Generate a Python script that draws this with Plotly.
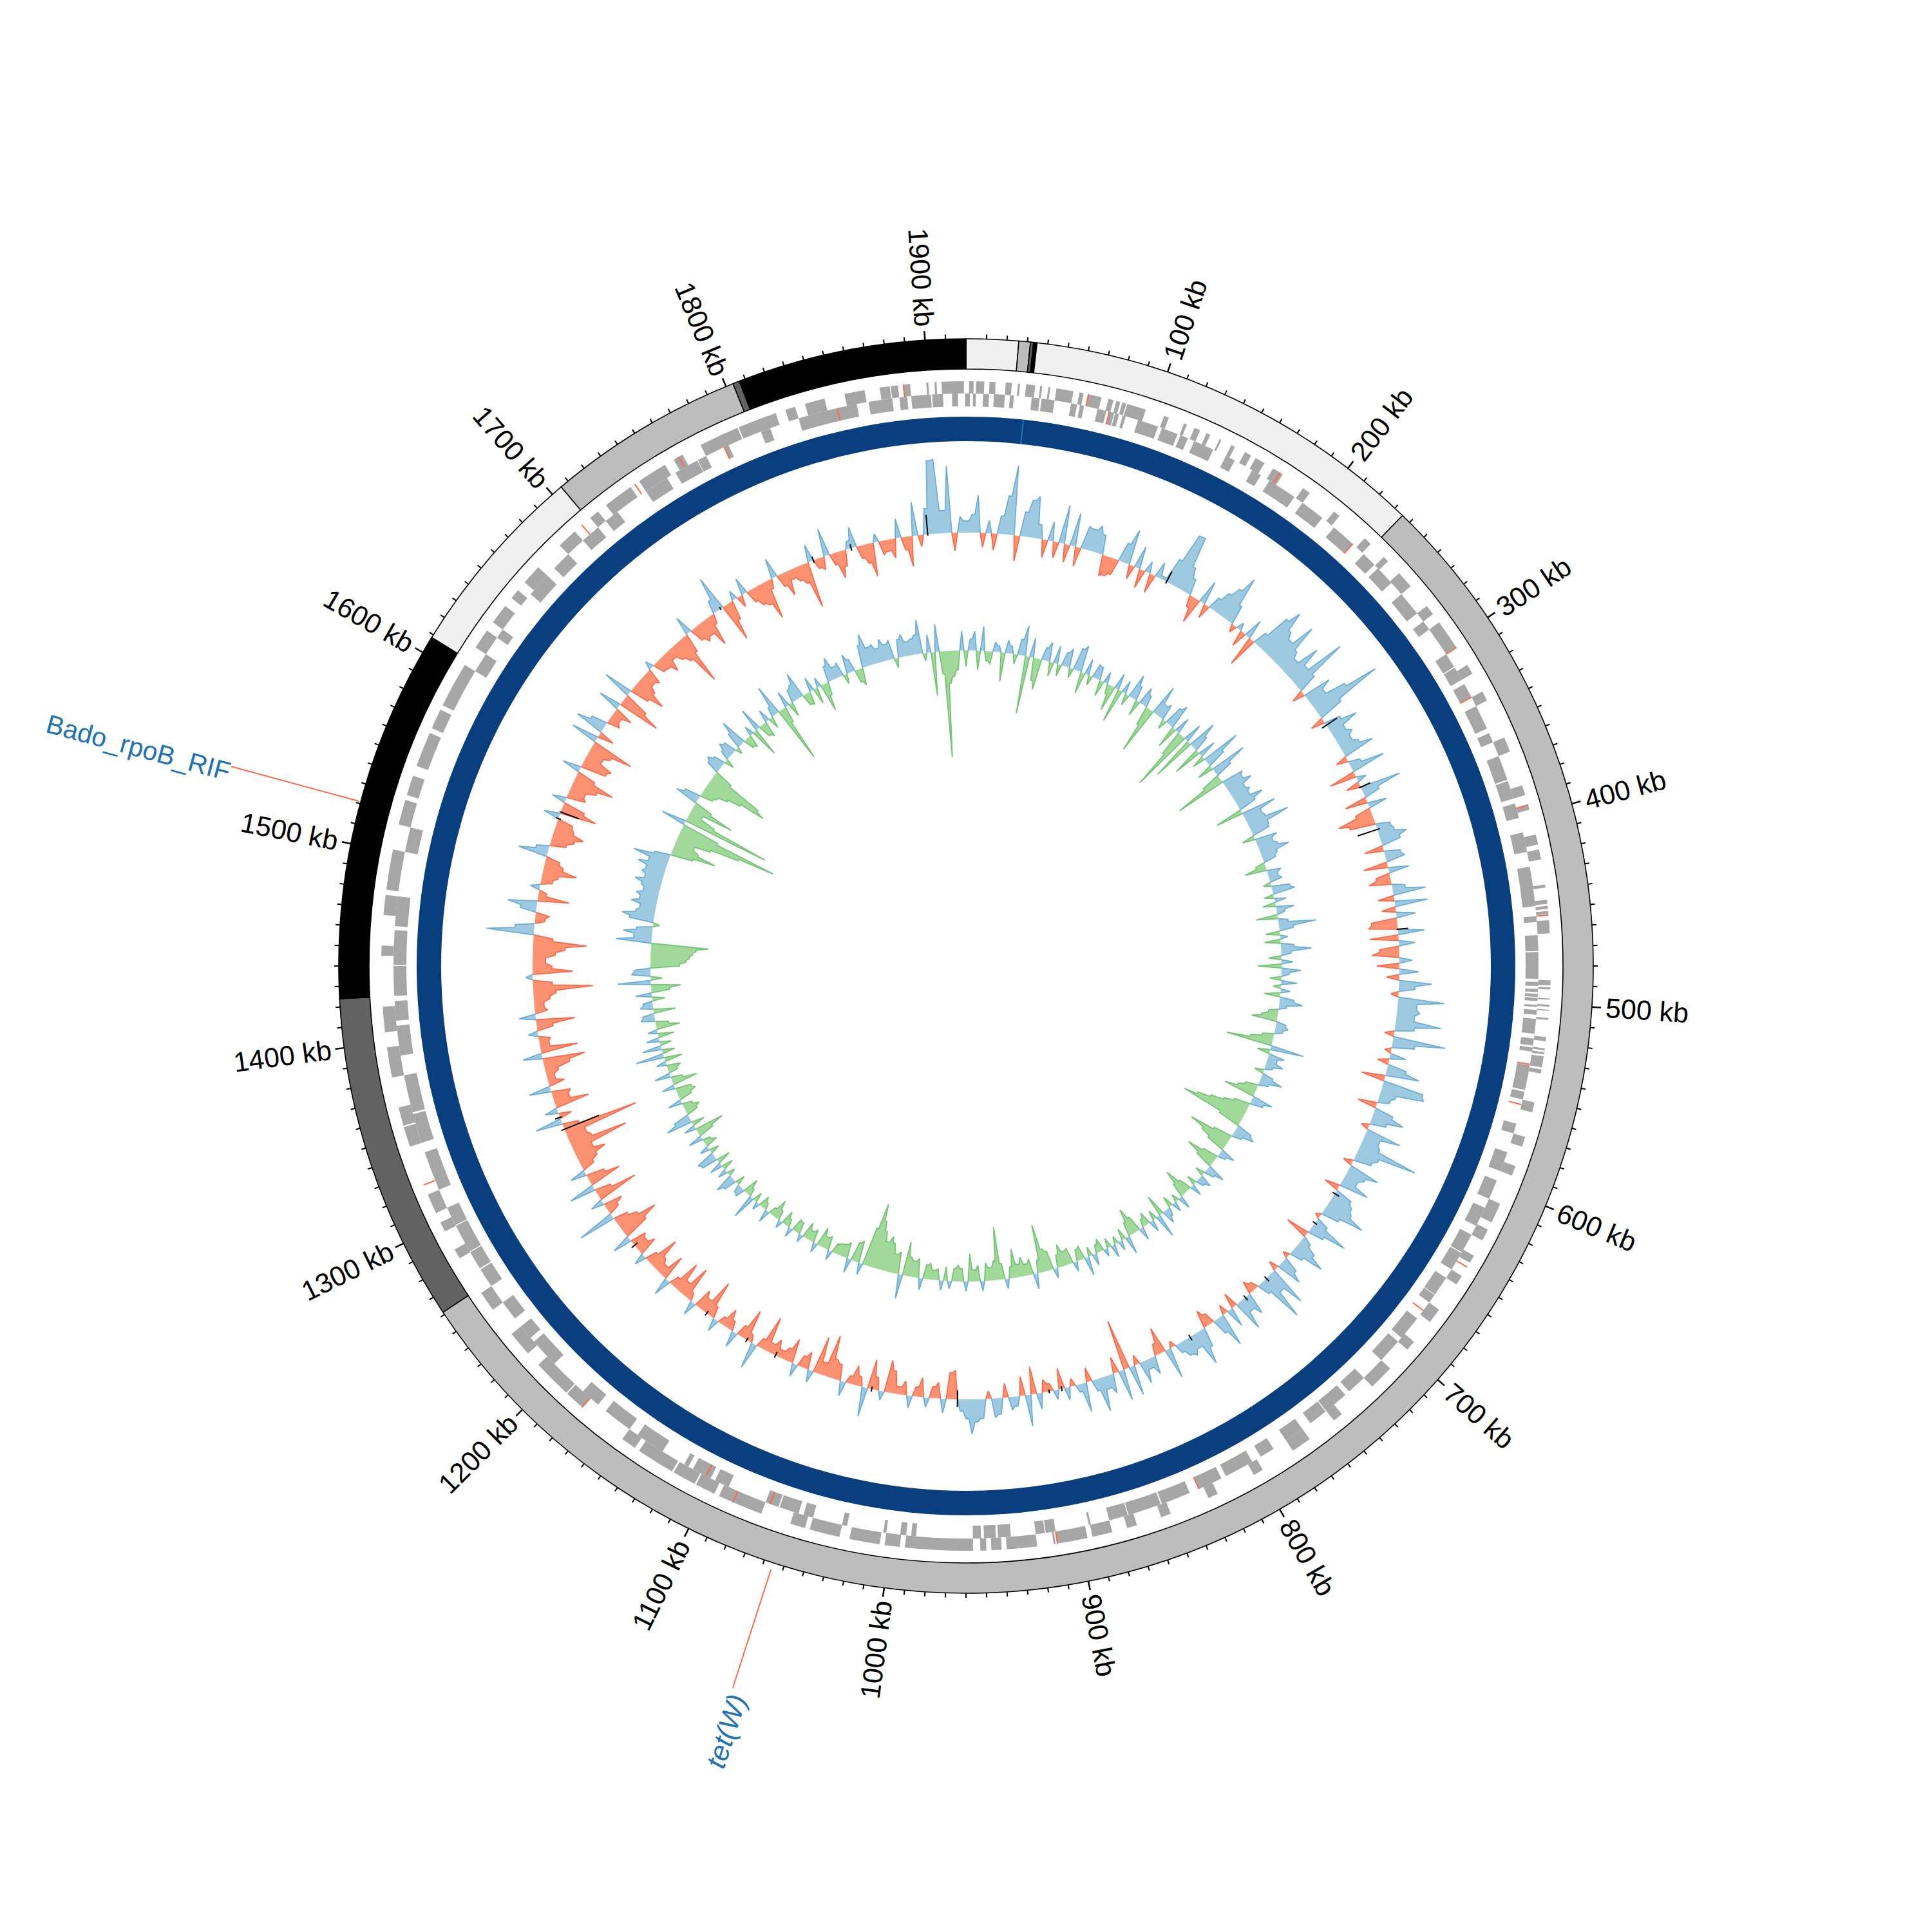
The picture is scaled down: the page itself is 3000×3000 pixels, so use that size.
import math
import plotly.graph_objects as go

GENOME_KB = 1920
CENTER_PX = 1500

label_kb = [100,200,300,400,500,600,700,800,900,1000,1100,1200,1300,1400,1500,1600,1700,1800,1900]

contig_start_kb = [0,25.8,31.5,33,34.7,235.2,1261.3,1424,1608.5,1705.6,1803.7,1807]
contig_end_kb   = [25.8,31.5,33,34.7,235.2,1261.3,1424,1608.5,1705.6,1803.7,1807,1920]
contig_shade    = ["#f0f0f0","#bdbdbd","#636363","#000000","#f0f0f0","#bdbdbd","#636363","#000000","#f0f0f0","#bdbdbd","#636363","#000000"]

outer_gene_start = [1.6,5.3,12.3,20.8,27.2,31.5,38.9,43.2,47.5,59.7,64.5,75.2,79.5,82.7,85.3,105.6,116.8,122.7,129.6,137.1,144,152,158.4,169,187.7,208,229.3,243.2,254.9,277.3,288,314.7,330.7,357.3,384,394.7,410.7,418.7,437.3,445.3,448.5,451.2,456,487.5,491.2,497,500.3,502.9,507.2,517.3,523.2,525.3,527.5,534.4,552,570.7,586.7,608,622.9,638.4,650.7,672,693.3,712,746.7,768,797.3,824,850.7,869.3,882.7,896,913,922.7,941.3,949.3,956.3,994.7,1005.3,1026.7,1045.3,1069.3,1096,1107.5,1121,1144,1178.7,1190,1218.7,1248,1280,1296,1306.7,1344,1355.5,1381.3,1405.3,1445.3,1466.7,1480,1514.7,1530.7,1546.7,1568,1581.3,1616,1632,1648,1658.7,1685.3,1706.7,1717.3,1738.7,1760,1776,1798,1824,1834.7,1856,1874.7,1880.5,1887,1899.2,1903.5,1907.2]
outer_gene_end   = [4,9.6,15.5,24,28.3,36.3,40,44.3,56.5,61.9,71.5,77.9,81.6,84.8,95.5,108.3,118.4,125.9,131.7,138.1,146.1,155.7,163.7,174.9,192,211.7,233.6,246.4,264,282.7,304,320,336,365.3,389.3,397.3,416,424,438.9,447.5,450.1,452.8,462.9,490.1,492.3,497.6,501.3,503.5,508.3,519.5,524.3,526.4,533.3,536.5,557.3,576,592,618.7,629.3,642.7,656,680,698.7,725.3,752,778.7,802.7,829.3,856,874.7,893.3,912,914,938.7,946.7,952.5,992,1002.7,1021.3,1042.7,1053.3,1093.3,1106.7,1120,1141.3,1152,1189.3,1210.7,1232,1258.7,1285.3,1301.3,1317.3,1354.7,1365.3,1397.3,1418.7,1450.7,1477.3,1501.3,1528,1541.3,1565.3,1578.7,1605.3,1626.7,1642.7,1653.3,1669.3,1696,1712,1733.3,1754.7,1765.3,1797.3,1818.7,1829.3,1845.3,1866.7,1880,1884.3,1890.7,1900.3,1904.6,1918.9]

inner_gene_start = [0,3.7,9.1,14.9,23.5,35.2,40.5,56.5,61.3,70.9,77.3,80.5,84.8,93.3,106.7,117.3,125.3,144,160,170.7,192,213.3,234.7,245.3,264,282.7,304,312.5,322.7,336,352,365.3,379.5,392,408,426.7,453.3,463.5,472.5,488.5,492.3,494.9,497,500.8,503.5,508.3,518.9,523.7,533.3,547.7,565.3,581.3,597.3,613.3,629.3,640.5,656,667,682.7,698.7,725.3,738.7,752.5,768,786.7,800,818.7,837.3,854,872.5,892.8,912,917.8,936,944,952,986.7,992,1002.7,1024,1042.7,1050.7,1062,1090.7,1101.3,1114.7,1130.7,1152,1173.3,1205.3,1224,1237.3,1258.7,1270,1280.5,1296.5,1317.3,1344,1361,1392,1410.7,1424,1440.5,1461.3,1501.3,1605.3,1626.7,1656,1674.7,1696,1712,1738.7,1757.3,1771,1786.7,1808,1829.3,1851,1867.7,1884.3,1890.7,1901.9,1912.5,1919.5]
inner_gene_end   = [2.1,5.3,12.3,20.8,25.6,39.5,47.5,59.7,63.5,75.7,80,82.7,86.4,104.5,115.7,121.6,136.5,149.3,165.3,186.7,205.3,226.7,242.7,256,277.3,288,312,320,330.7,349.3,357.3,378.7,389.3,400,418.7,448,456.5,472,486.9,490.7,493.9,496.5,498.7,501.9,506.1,516.3,522.7,525.9,546.7,552,570.7,592,608,624,640,650.7,666.7,672,696,712,736,752,762.7,778.7,794.7,816,832,853.3,872,882.7,893.9,917.3,922.7,942.9,950.4,956.3,989.3,995.2,1004.3,1026.7,1048,1061.3,1069.3,1098.7,1112,1117.3,1146.7,1168,1184,1221.3,1232,1248,1269.3,1280,1296,1306.7,1338.7,1360,1381.3,1408,1421.3,1440,1459.2,1477.3,1514.7,1616,1632,1669.3,1685.3,1706.7,1720,1752,1770.7,1776,1789.3,1813.3,1850.7,1861.3,1880.5,1888.5,1901.3,1907.7,1915.7,1920]

outer_resistance_kb = [1887.2,64.5,173.3,304,394.7,453.3,645.3,912,1085.3,1178.7,1322.7,1763,1736,1701]
inner_resistance_kb = [77.3,226.7,330.7,532.8,554.7,677.3,832,1066.7,1104,1786.7,1850.7]

hit_kb = [32]

gc_content_q1 = [18,28,58,-22,20,-26,28,60,108,-40,38,58,65,22,-28,30,-25,60,-28,52,-30,36,34,42,30,-32,-30,-25,30,55,-22,35,-30,18,-30,25,5,40,87,88,
 40,25,-18,-40,37,-22,20,35,50,75,30,-12,12,-25,30,-48,22,60,80,50,40,77,35,25,60,30,91,30,-20,45,28,60,112,40,-22,25,49,22,30,22,
 30,50,-18,18,54,-42,15,-22,64,25,-35,30,-25,-56,-40,22,25,43,30,-30,25,30,-38,32,-22,-35,20,51,-25,51,-22,30,-40,-45,41,-45,25,-30,-42,20]
gc_content_q2 = [-35,30,-20,51,25,-12,72,30,35,28,71,30,-15,82,35,-10,25,-18,30,53,-37,64,68,25,18,-30,30,50,25,-12,56,25,30,94,35,28,-15,49,30,22,
 46,-24,28,35,40,66,28,-8,20,60,25,-37,15,30,52,20,-10,25,40,-15,62,30,74,20,-12,-20,35,22,49,-24,30,-15,52,25,-18,-28,30,55,22,30,
 25,15,-10,48,-41,-18,28,15,35,-15,47,-79,48,-25,30,20,53,18,-22,46,12,-12,20,-32,15,-12,-20,25,-43,49,-30,15,20,-22,25,30,-12,30,35,54]
gc_content_q3 = [30,18,-45,-41,22,-25,-18,15,-30,-15,19,-22,-12,-35,-50,14,-20,-46,46,-15,-30,-12,23,-25,-30,-66,-20,-58,19,-27,-18,20,-38,-20,-12,-25,-15,-55,-15,41,
 -12,-49,-18,25,-15,-30,-12,20,-18,-57,-20,-30,22,-12,-52,-20,-48,-15,28,-40,-15,-22,-51,-18,18,-30,-20,-25,30,-40,-64,-35,-22,59,-18,-30,20,-65,-25,41,
 -51,-28,25,-20,-30,-48,-30,-91,-35,-30,-118,-25,42,-20,20,-54,-25,-30,34,-25,-12,-20,-40,-66,30,-58,-15,-18,15,-25,-60,26,-20,-15,-25,-35,-93,-30,11,-62]
gc_content_q4 = [-30,-20,-35,-50,-83,-30,74,30,-15,-22,25,46,-49,-12,15,-18,-25,-53,-30,-22,46,20,-25,-35,-48,-30,-25,25,-57,-35,22,-30,-25,-40,-65,-30,29,-40,-46,-25,
 -35,-67,43,-25,46,25,-20,-15,-30,36,-67,-40,46,-30,-53,-30,-20,-25,13,-18,-20,-32,-15,-25,-35,-81,-30,29,-22,-30,-25,-48,-15,20,55,-61,-30,15,-18,26,
 -20,-30,-35,-61,-15,31,-20,-38,-15,-22,-30,-72,27,-15,-20,43,-18,-42,-25,12,32,-20,-30,-52,13,-22,-18,-30,30,-20,-47,52,-18,40,114,115,35,104,-28,25]

gc_skew_q1 = [-25,18,30,-30,38,-15,-20,15,10,-45,20,12,-15,25,47,-90,30,-35,-48,20,30,-22,28,-18,22,30,-15,35,42,-33,25,-15,22,20,-25,18,-15,-40,25,-53,
 20,-18,38,22,-25,28,18,-30,-74,48,20,25,-15,30,38,-35,25,-40,-98,30,-69,46,25,-45,28,-20,62,30,-25,58,28,-30,-80,35,30,42,25,30,25,45,
 28,-43,55,28,30,67,30,28,-20,35,25,30,47,25,20,-15,-34,22,15,20,-12,28,35,-15,18,-20,28,12,-34,15,58,22,-22,12,-25,20,47,15,-20,18]
gc_skew_q2 = [-37,30,12,-18,25,-12,15,-25,22,36,12,-15,-25,-40,15,20,12,-18,-35,-72,52,-20,25,15,27,12,-15,18,35,15,-20,-30,-50,33,20,-25,-40,-60,-80,-101,
 -35,25,33,15,-30,-69,-45,-30,24,12,-25,-50,-28,29,15,-15,20,12,-15,18,-20,-43,-22,20,-12,15,-18,12,22,-33,37,-15,18,-20,-12,20,-25,-42,-22,28,
 -18,15,-12,20,-15,12,-20,-13,18,-15,29,-22,-18,15,-25,-22,-35,-20,15,-30,-35,-75,-20,24,-25,-18,-30,-20,-45,-18,15,-25,-82,-30,-20,-28,15,-25,-18,-43]
gc_skew_q3 = [15,-20,-25,-20,12,-22,15,-18,-15,-25,-22,18,-30,-25,-30,-53,38,-35,-30,-45,-55,-45,-60,-75,-101,-60,18,-35,-30,22,-25,-20,-18,-15,15,-22,-18,-30,15,-20,
 -15,-25,12,-18,-20,15,-12,-22,12,-15,-29,-12,20,-10,-18,12,-15,38,-12,-25,15,12,-15,20,30,-12,15,-18,20,-22,25,29,-15,15,-20,-12,22,-25,-46,18,
 -20,41,25,-18,-25,-15,22,-20,-30,-25,20,-40,-18,25,-15,-22,15,-28,44,-20,30,-18,20,-25,15,-37,-20,22,18,-34,20,15,-20,25,-28,-46,52,-18,30,25]
gc_skew_q4 = [-45,-55,-60,-65,-70,-89,55,28,45,25,-10,38,51,30,25,40,28,35,25,30,42,28,35,30,45,30,57,25,-35,-70,-40,-30,-55,-100,-158,-60,39,-137,-45,-20,
 -69,-30,37,25,-20,-25,-40,-60,-100,-87,-30,20,26,18,-15,15,25,20,-10,25,43,-16,-20,15,-45,37,-20,-25,20,-18,15,48,-89,-25,25,-22,20,25,41,-18,
 -20,22,-25,15,-44,-20,25,36,18,22,-15,30,20,-20,-27,35,51,28,30,22,35,25,30,-15,28,35,22,25,30,53,-12,28,-68,43,-35,-165,-50,-40,-30,30]

gap_mark_kb   = [1893,1838,1810,1736,1551,1546,1322,1331,1226,1156,1122,1099,1027,966,892,901,794,746,726,674,649,147,300,350,382,454]
gap_mark_low  = [-2,-4,-4,-2,-30,-4,-58,-3,-6,-4,-4,-6,-4,-14,-4,-3,-4,-4,-4,-4,-4,-3,-8,-3,-32,-2]
gap_mark_high = [30,6,6,3,2,4,5,8,6,4,4,4,4,12,4,3,6,6,6,4,8,18,20,16,4,16]

def deg(kb):
    return kb * 360.0 / GENOME_KB

def ring(start, end, r0, r1, color, line=None, name=""):
    return go.Barpolar(
        theta=[deg((s + e) / 2) for s, e in zip(start, end)],
        width=[deg(e - s) for s, e in zip(start, end)],
        base=[r0] * len(start), r=[r1 - r0] * len(start),
        marker=dict(color=color, line=line or dict(width=0)),
        hoverinfo="skip", showlegend=False, name=name)

def track(values, baseline, up_fill, up_line, down_fill, down_line):
    n = len(values)
    step = 360.0 / n
    out = []
    for sign, fc, lc in ((1, up_fill, up_line), (-1, down_fill, down_line)):
        part = [max(sign * v, 0) for v in values]
        # each bin is a one-bin-wide peak rising from the lower of its two neighbours
        th, pts = [], []
        for i in range(n):
            th += [i * step, (i + 0.5) * step]
            pts += [part[i], min(part[i], part[(i + 1) % n])]
        th.append(360.0)
        pts.append(part[0])
        r = [baseline + sign * p for p in pts]
        m = len(pts)
        out.append(go.Scatterpolar(theta=th + th[::-1], r=r + [baseline] * m, mode="lines",
                                   line=dict(width=0), fill="toself", fillcolor=fc,
                                   hoverinfo="skip", showlegend=False))
        lt, lr = [], []
        for i in range(m):
            if pts[i] > 0 or (i > 0 and pts[i - 1] > 0) or (i < m - 1 and pts[i + 1] > 0):
                lt.append(th[i]); lr.append(r[i])
            else:
                lt.append(None); lr.append(None)
        out.append(go.Scatterpolar(theta=lt, r=lr, mode="lines", line=dict(color=lc, width=1.8),
                                   connectgaps=False, hoverinfo="skip", showlegend=False))
    return out

def spokes(kbs, r0, r1, color, width):
    th, rr = [], []
    for k in kbs:
        th += [deg(k), deg(k), None]
        rr += [r0, r1, None]
    return go.Scatterpolar(theta=th, r=rr, mode="lines", line=dict(color=color, width=width),
                           hoverinfo="skip", showlegend=False)

traces = []
traces.append(ring(contig_start_kb, contig_end_kb, 927, 974, contig_shade, dict(color="#000000", width=1.6)))
traces.append(ring(outer_gene_start, outer_gene_end, 889, 908, "#a6a6a6"))
traces.append(ring(inner_gene_start, inner_gene_end, 869, 889, "#a6a6a6"))
traces.append(ring([0, 960], [960, 1920], 815, 853, "#0a3f7f"))
traces.append(spokes(hit_kb, 815, 853, "#2171b5", 2))
traces.append(spokes(outer_resistance_kb, 889, 908, "#fb6a4a", 2))
traces.append(spokes(inner_resistance_kb, 869, 889, "#fb6a4a", 2))

gc_content = gc_content_q1 + gc_content_q2 + gc_content_q3 + gc_content_q4
gc_skew = gc_skew_q1 + gc_skew_q2 + gc_skew_q3 + gc_skew_q4
traces += track(gc_content, 673, "#9ecae1", "#6baed6", "#fc9272", "#fb6a4a")
traces += track(gc_skew, 490, "#9ecae1", "#6baed6", "#a1d99b", "#74c476")

th, rr = [], []
for k, lo, hi in zip(gap_mark_kb, gap_mark_low, gap_mark_high):
    th += [deg(k), deg(k), None]
    rr += [673 + lo, 673 + hi, None]
traces.append(go.Scatterpolar(theta=th, r=rr, mode="lines", line=dict(color="#000000", width=2),
                              hoverinfo="skip", showlegend=False))

minor = [k for k in range(10, GENOME_KB, 10) if k % 100]
traces.append(spokes(minor, 974, 981, "#000000", 2))
traces.append(spokes(label_kb, 974, 988, "#000000", 2.5))
traces.append(spokes([1521], 977, 1182, "#fb6a4a", 2))
traces.append(spokes([1055.5], 985, 1178, "#fb6a4a", 2))

annotations = []
def place(text, a, r, rot, size, color):
    t = math.radians(a)
    annotations.append(dict(text=text, xref="paper", yref="paper", showarrow=False,
                            x=0.5 + r * math.sin(t) / 3000, y=0.5 + r * math.cos(t) / 3000,
                            xanchor="center", yanchor="middle", textangle=rot,
                            font=dict(family="Liberation Sans", size=size, color=color)))

for k in label_kb:
    a = deg(k)
    half = 63 if k < 1000 else 74
    rot = a - 90 if a < 180 else a - 270
    place(f"{k} kb", a, 997 + half, rot, 43, "#000000")
place("Bado_rpoB_RIF", 284.8, 1329, 15, 41, "#2171b5")
place("<i>tet(W)</i>", 197.4, 1245, -72, 43, "#2171b5")

fig = go.Figure(traces)
fig.update_layout(
    width=3000, height=3000, margin=dict(l=0, r=0, t=0, b=0), paper_bgcolor="white",
    showlegend=False, annotations=annotations,
    polar=dict(domain=dict(x=[0, 1], y=[0, 1]), bgcolor="white", barmode="overlay", bargap=0,
               radialaxis=dict(visible=False, range=[0, CENTER_PX]),
               angularaxis=dict(visible=False, direction="clockwise", rotation=90, thetaunit="degrees")))
fig.write_html("out.html", config=dict(displayModeBar=False), post_script="document.body.style.margin='0';")
